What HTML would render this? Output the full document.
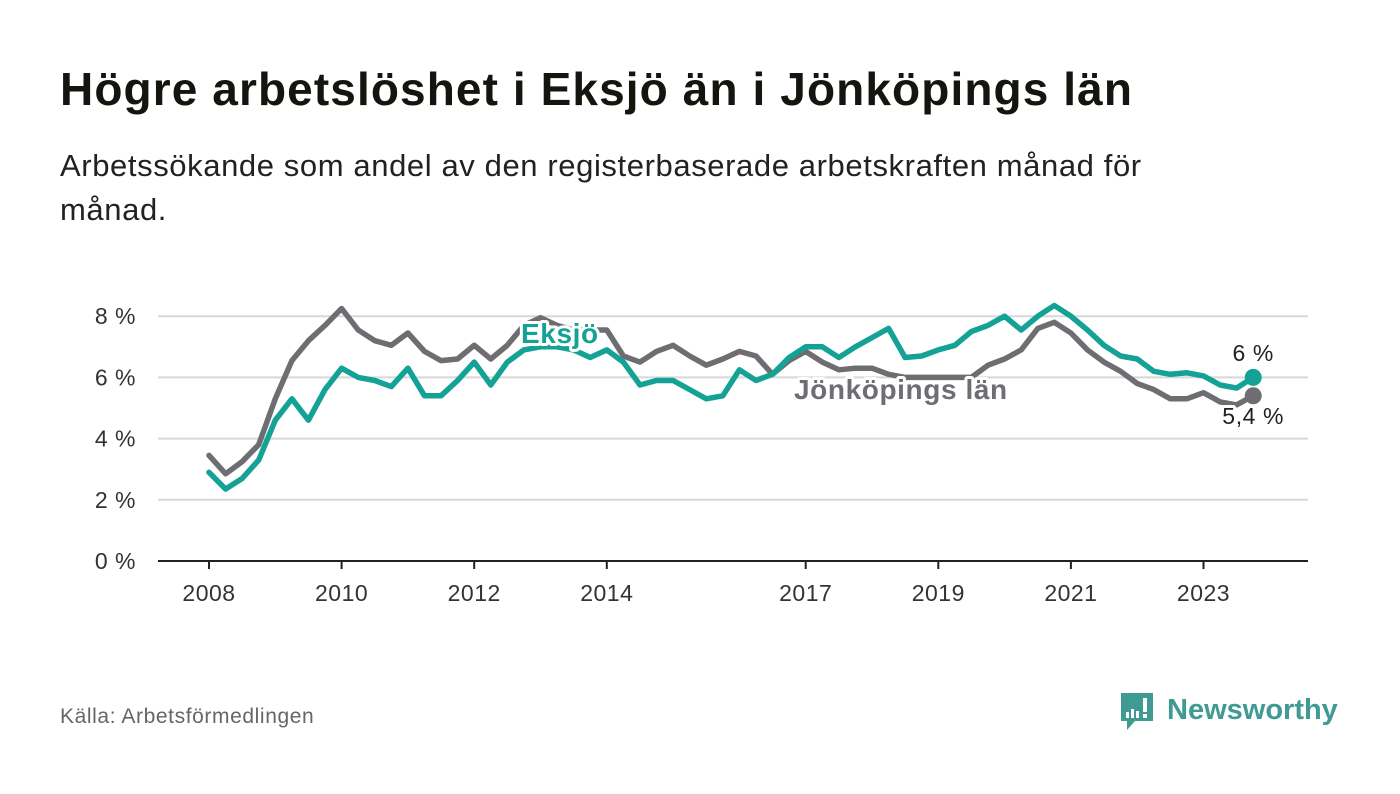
<!DOCTYPE html>
<html><head><meta charset="utf-8">
<style>
body{margin:0;background:#fff;font-family:"Liberation Sans",sans-serif;}
#wrap{position:relative;width:1400px;height:794px;overflow:hidden;}
h1{position:absolute;left:60px;top:62px;margin:0;font-size:46px;font-weight:bold;color:#15150f;letter-spacing:1.1px;white-space:nowrap}
.sub{position:absolute;left:60px;top:144px;width:1180px;font-size:31px;line-height:44px;color:#222;letter-spacing:0.6px}
.src{position:absolute;left:60px;top:705px;font-size:21px;color:#666;letter-spacing:0.6px}
svg{position:absolute;left:0;top:0}
</style></head><body>
<div id="wrap">
<h1>Högre arbetslöshet i Eksjö än i Jönköpings län</h1>
<div class="sub">Arbetssökande som andel av den registerbaserade arbetskraften månad för månad.</div>
<div class="src">Källa: Arbetsförmedlingen</div>
<svg id="chart" width="1400" height="794"></svg>
</div>
<script>
const yTicks=[0,2,4,6,8];
const xTickYears=[2008,2010,2012,2014,2017,2019,2021,2023];
const startYear=2008, stepYears=0.25;
const eksjo=[2.9,2.35,2.7,3.3,4.6,5.3,4.6,5.6,6.3,6.0,5.9,5.7,6.3,5.4,5.4,5.9,6.5,5.75,6.5,6.9,7.0,7.0,6.9,6.65,6.9,6.5,5.75,5.9,5.9,5.6,5.3,5.4,6.25,5.9,6.1,6.65,7.0,7.0,6.65,7.0,7.3,7.6,6.65,6.7,6.9,7.05,7.5,7.7,8.0,7.55,8.0,8.35,8.0,7.55,7.05,6.7,6.6,6.2,6.1,6.15,6.05,5.75,5.65,6.0];
const jkpg=[3.45,2.85,3.25,3.8,5.3,6.55,7.2,7.7,8.25,7.55,7.2,7.05,7.45,6.85,6.55,6.6,7.05,6.6,7.05,7.7,7.95,7.7,7.55,7.55,7.55,6.7,6.5,6.85,7.05,6.7,6.4,6.6,6.85,6.7,6.1,6.55,6.85,6.5,6.25,6.3,6.3,6.1,6.0,6.0,6.0,6.0,6.0,6.4,6.6,6.9,7.6,7.8,7.45,6.9,6.5,6.2,5.8,5.6,5.3,5.3,5.5,5.2,5.1,5.4];
const lastLabels=["6 %","5,4 %"];

const NS="http://www.w3.org/2000/svg";
const svg=document.getElementById('chart');
const x=t=>209+(t-2008)*66.3;
const y=v=>561-v*30.6;
function mk(tag,attrs,parent){const e=document.createElementNS(NS,tag);for(const k in attrs)e.setAttribute(k,attrs[k]);(parent||svg).appendChild(e);return e;}

yTicks.forEach(v=>{
  const l=mk('line',{x1:158,x2:1308,y1:y(v),y2:y(v),stroke:v===0?'#222':'#d8d8d8','stroke-width':2});
  
  
  const t=mk('text',{x:136,y:y(v)+8,'text-anchor':'end','font-size':23,fill:'#333','letter-spacing':0.5,'font-family':'Liberation Sans, sans-serif'});
  t.textContent=v+' %';
  
  
});
xTickYears.forEach(yr=>{
  const l=mk('line',{x1:x(yr),x2:x(yr),y1:561,y2:569,stroke:'#222','stroke-width':2});
  
  
  const t=mk('text',{x:x(yr),y:601,'text-anchor':'middle','font-size':23,fill:'#333','letter-spacing':0.5,'font-family':'Liberation Sans, sans-serif'});
  t.textContent=yr;
  
  
});
function series(data,color,name){
  const pts=data.map((v,i)=>x(startYear+i*stepYears).toFixed(1)+','+y(v).toFixed(1)).join(' ');
  const p=mk('polyline',{points:pts,fill:'none',stroke:color,'stroke-width':5.5,'stroke-linejoin':'round','stroke-linecap':'round'});
  
  
  const n=data.length-1;
  const c=mk('circle',{cx:x(startYear+n*stepYears),cy:y(data[n]),r:8.5,fill:color});
  
  
}
series(jkpg,'#6e6d72','jonkoping-line');
series(eksjo,'#13a295','eksjo-line');
function lbl(txt,xx,yy,color,size,bold,anchor,name){
  const t=mk('text',{x:xx,y:yy,'font-size':size,fill:color,'font-weight':bold?'bold':'normal','text-anchor':anchor||'start',stroke:'#fff','stroke-width':6,'paint-order':'stroke','stroke-linejoin':'round','letter-spacing':0.6,'font-family':'Liberation Sans, sans-serif'});
  t.textContent=txt;
  
  
}
lbl('Eksjö',521,343,'#13a295',28,true,'start','eksjo-label');
lbl('Jönköpings län',794,399,'#6e6d72',28,true,'start','jonkoping-label');
const n=eksjo.length-1, ex=x(startYear+n*stepYears);
lbl(lastLabels[0],ex,361,'#222',23,false,'middle','eksjo-end-value');
lbl(lastLabels[1],ex,424,'#222',23,false,'middle','jonkoping-end-value');
</script>
<svg width="1400" height="794" style="position:absolute;left:0;top:0">
<path d="M1121 693h32v28h-18l-8 9v-9h-6z" fill="#3e9a93"/>
<rect x="1126" y="712" width="3" height="6" fill="#fff"/><rect x="1131" y="709" width="3" height="9" fill="#fff"/><rect x="1136" y="711" width="3" height="7" fill="#fff"/><rect x="1143" y="698" width="4" height="14" fill="#fff"/><rect x="1143" y="714" width="4" height="4" fill="#fff"/>
<text x="1167" y="719" font-size="29" font-weight="bold" fill="#3e9a93" font-family="Liberation Sans, sans-serif">Newsworthy</text>
</svg>
</body></html>
